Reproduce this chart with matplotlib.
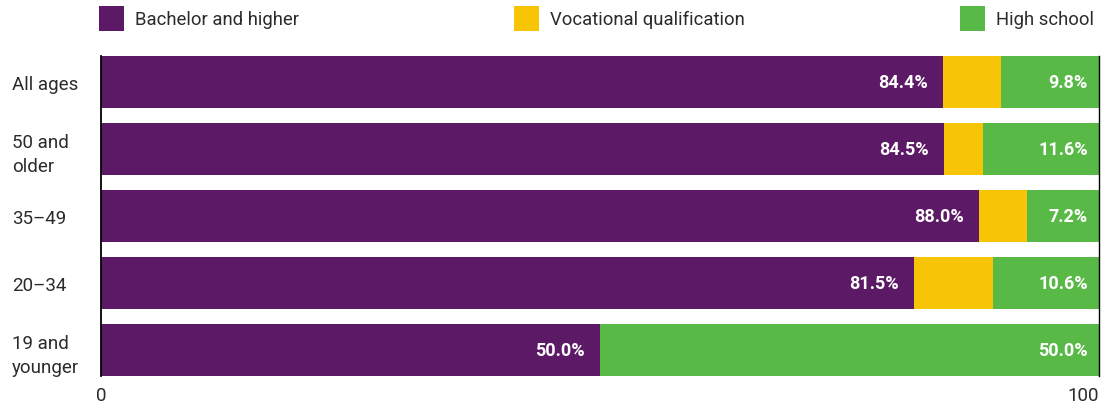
import matplotlib
matplotlib.use("Agg")
import matplotlib.pyplot as plt
from matplotlib.patches import Patch
import numpy as np

# data
categories = ["All ages", "50 and\nolder", "35–49", "20–34", "19 and\nyounger"]
bachelor = [84.4, 84.5, 88.0, 81.5, 50.0]
vocational = [5.8, 3.9, 4.8, 7.9, 0.0]
high_school = [9.8, 11.6, 7.2, 10.6, 50.0]
series_names = ["Bachelor and higher", "Vocational qualification", "High school"]
xtick_values = [0, 100]

colors = ["#5c1a66", "#f7c505", "#58b947"]
txt_col = "#2b2b2b"

plt.rcParams['font.family'] = ['Roboto', 'DejaVu Sans']

fig = plt.figure(figsize=(11.13, 4.10), dpi=100)
ax = fig.add_axes([101 / 1113, 1 - 377 / 410, (1099 - 101) / 1113, (377 - 57) / 410])

y = np.arange(len(categories))
h = 0.78
left = np.zeros(len(categories))
for vals, col in zip([bachelor, vocational, high_school], colors):
    ax.barh(y, vals, left=left, height=h, color=col, linewidth=0)
    left = left + np.array(vals)

# value labels (bachelor and high school only)
for i in range(len(categories)):
    ax.annotate(f"{bachelor[i]:.1f}%", (bachelor[i], y[i]), xytext=(-11, 0),
                textcoords="offset points", ha="right", va="center",
                color="white", fontsize=13, fontweight="bold")
    end = bachelor[i] + vocational[i] + high_school[i]
    ax.annotate(f"{high_school[i]:.1f}%", (end, y[i]), xytext=(-8, 0),
                textcoords="offset points", ha="right", va="center",
                color="white", fontsize=13, fontweight="bold")

ax.set_xlim(0, 100)
ax.set_ylim(len(categories) - 1 + h / 2, -h / 2)

ax.set_yticks(y)
ax.set_yticklabels(categories, ha="left", fontsize=13.5, color=txt_col,
                   linespacing=1.45)
ax.tick_params(axis="y", length=0, pad=64)

ax.set_xticks(xtick_values)
ax.set_xticklabels([str(v) for v in xtick_values], fontsize=13.5, color=txt_col)
ax.get_xticklabels()[-1].set_ha("right")
ax.tick_params(axis="x", length=0, pad=7)

for s in ["top", "bottom"]:
    ax.spines[s].set_visible(False)
ax.spines["left"].set_linewidth(1.3)
ax.spines["right"].set_linewidth(1.0)

handles = [Patch(facecolor=c, edgecolor="none") for c in colors]
fig.legend(handles, series_names, ncol=3, mode="expand", frameon=False,
           bbox_to_anchor=(92 / 1113, 1 - 39 / 410, (1101 - 92) / 1113, 39 / 410),
           loc="lower left", handlelength=1.35, handleheight=1.7,
           handletextpad=0.6, borderaxespad=0, labelcolor=txt_col,
           prop={'size': 13.3})

fig.savefig("out.png", dpi=100)
